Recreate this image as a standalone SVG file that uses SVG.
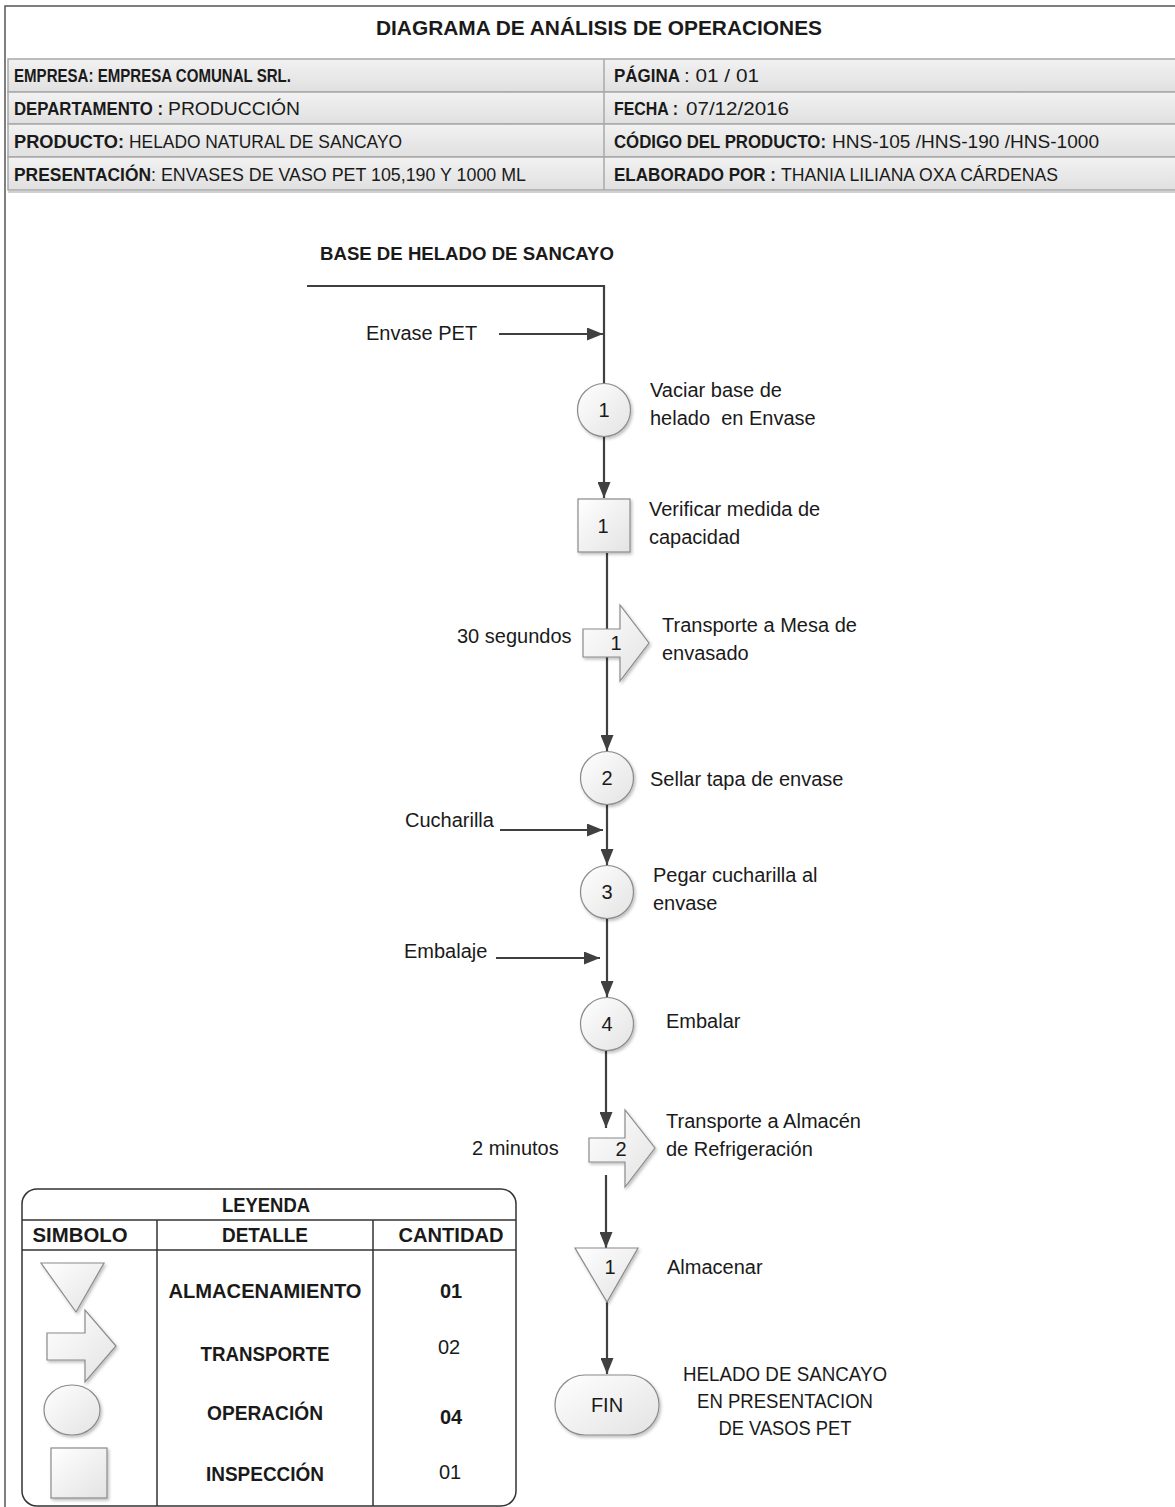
<svg xmlns="http://www.w3.org/2000/svg" width="1175" height="1507" viewBox="0 0 1175 1507">
  <defs>
    <linearGradient id="rowFill" x1="0" y1="0" x2="0" y2="1">
      <stop offset="0" stop-color="#f2f2f2"/>
      <stop offset="1" stop-color="#e0e0e0"/>
    </linearGradient>
    <linearGradient id="shapeFill" x1="0" y1="0" x2="1" y2="1">
      <stop offset="0" stop-color="#ffffff"/>
      <stop offset="1" stop-color="#e3e3e3"/>
    </linearGradient>
    <filter id="soft" x="-20%" y="-20%" width="150%" height="150%">
      <feDropShadow dx="1.5" dy="2" stdDeviation="1.5" flood-color="#000" flood-opacity="0.25"/>
    </filter>
    <marker id="head" viewBox="0 0 16 13" refX="16" refY="6.5" markerWidth="16" markerHeight="13" markerUnits="userSpaceOnUse" orient="auto">
      <path d="M0,0 L16,6.5 L0,13 z" fill="#404040"/>
    </marker>
  </defs>
  <style>
    text { font-family: "Liberation Sans", Arial, sans-serif; fill: #1a1a1a; }
    .b { font-weight: bold; }
    .hd { font-size: 18px; }
    .lbl { font-size: 20px; }
    .num { font-size: 20px; text-anchor: middle; }
    .lg { font-size: 20px; font-weight: bold; text-anchor: middle; }
    .row { fill: url(#rowFill); stroke: #a8a8a8; stroke-width: 1.5; }
    .shape { fill: url(#shapeFill); stroke: #8a8a8a; stroke-width: 1.2; filter: url(#soft); }
    .wire { fill: none; stroke: #404040; stroke-width: 2.2; }
    .rule { fill: none; stroke: #333; stroke-width: 1.5; }
  </style>

  <rect width="1175" height="1507" fill="#ffffff"/>

  <!-- page frame -->
  <path d="M5,1507 V6 H1175" fill="none" stroke="#555" stroke-width="1.5"/>

  <!-- title -->
  <text x="376" y="35" class="b" font-size="21" textLength="446" lengthAdjust="spacingAndGlyphs">DIAGRAMA DE ANÁLISIS DE OPERACIONES</text>

  <!-- header table -->
  <g id="header">
    <rect class="row" x="8" y="59" width="1170" height="33"/>
    <rect class="row" x="8" y="92" width="1170" height="32"/>
    <rect class="row" x="8" y="124" width="1170" height="33"/>
    <rect class="row" x="8" y="157" width="1170" height="33"/>
    <line x1="604" y1="59" x2="604" y2="190" stroke="#a8a8a8" stroke-width="1.5"/>
    <line x1="8" y1="192" x2="1175" y2="192" stroke="#d0d0d0" stroke-width="2"/>

    <text x="14" y="82" class="hd b" textLength="277" lengthAdjust="spacingAndGlyphs">EMPRESA: EMPRESA COMUNAL SRL.</text>
    <text x="14" y="115" class="hd b" textLength="149" lengthAdjust="spacingAndGlyphs">DEPARTAMENTO :</text>
    <text x="168" y="115" class="hd" textLength="132" lengthAdjust="spacingAndGlyphs">PRODUCCIÓN</text>
    <text x="14" y="148" class="hd b" textLength="110" lengthAdjust="spacingAndGlyphs">PRODUCTO:</text>
    <text x="129" y="148" class="hd" textLength="273" lengthAdjust="spacingAndGlyphs">HELADO NATURAL DE SANCAYO</text>
    <text x="14" y="181" class="hd b" textLength="137" lengthAdjust="spacingAndGlyphs">PRESENTACIÓN</text>
    <text x="151" y="181" class="hd" textLength="375" lengthAdjust="spacingAndGlyphs">: ENVASES DE VASO PET 105,190 Y 1000 ML</text>

    <text x="614" y="82" class="hd b" textLength="66" lengthAdjust="spacingAndGlyphs">PÁGINA</text>
    <text x="684" y="82" class="hd" textLength="75" lengthAdjust="spacingAndGlyphs">: 01 / 01</text>
    <text x="614" y="115" class="hd b" textLength="64" lengthAdjust="spacingAndGlyphs">FECHA :</text>
    <text x="686" y="115" class="hd" textLength="103" lengthAdjust="spacingAndGlyphs">07/12/2016</text>
    <text x="614" y="148" class="hd b" textLength="212" lengthAdjust="spacingAndGlyphs">CÓDIGO DEL PRODUCTO:</text>
    <text x="832" y="148" class="hd" textLength="267" lengthAdjust="spacingAndGlyphs">HNS-105 /HNS-190 /HNS-1000</text>
    <text x="614" y="181" class="hd b" textLength="162" lengthAdjust="spacingAndGlyphs">ELABORADO POR :</text>
    <text x="781" y="181" class="hd" textLength="277" lengthAdjust="spacingAndGlyphs">THANIA LILIANA OXA CÁRDENAS</text>
  </g>

  <!-- start label -->
  <text x="320" y="260" class="b" font-size="19" textLength="294" lengthAdjust="spacingAndGlyphs">BASE DE HELADO DE SANCAYO</text>

  <!-- connectors -->
  <g id="connectors">
    <polyline class="wire" points="307,286 604,286 604,384"/>
    <line class="wire" x1="499" y1="334" x2="603" y2="334" marker-end="url(#head)"/>
    <line class="wire" x1="604" y1="437" x2="604" y2="498" marker-end="url(#head)"/>
    <line class="wire" x1="607" y1="553" x2="607" y2="751" marker-end="url(#head)"/>
    <line class="wire" x1="500" y1="830" x2="603" y2="830" marker-end="url(#head)"/>
    <line class="wire" x1="607" y1="805" x2="607" y2="865" marker-end="url(#head)"/>
    <line class="wire" x1="496" y1="958" x2="600" y2="958" marker-end="url(#head)"/>
    <line class="wire" x1="607" y1="919" x2="607" y2="997" marker-end="url(#head)"/>
    <line class="wire" x1="606" y1="1051" x2="606" y2="1128" marker-end="url(#head)"/>
    <line class="wire" x1="606" y1="1175" x2="606" y2="1248" marker-end="url(#head)"/>
    <line class="wire" x1="607" y1="1302" x2="607" y2="1374" marker-end="url(#head)"/>
  </g>

  <!-- side labels -->
  <text x="366" y="340" class="lbl" font-size="18">Envase PET</text>
  <text x="405" y="827" class="lbl" font-size="19">Cucharilla</text>
  <text x="404" y="958" class="lbl" font-size="19">Embalaje</text>
  <text x="457" y="643" class="lbl">30 segundos</text>
  <text x="472" y="1155" class="lbl">2 minutos</text>

  <!-- operation 1 -->
  <g id="op1">
    <circle class="shape" cx="604" cy="410" r="26.5"/>
    <text x="604" y="417" class="num">1</text>
    <text x="650" y="397" class="lbl">Vaciar base de</text>
    <text x="650" y="425" class="lbl" xml:space="preserve">helado  en Envase</text>
  </g>

  <!-- inspection 1 -->
  <g id="insp1">
    <rect class="shape" x="578" y="499" width="52" height="53"/>
    <text x="603" y="533" class="num">1</text>
    <text x="649" y="516" class="lbl">Verificar medida de</text>
    <text x="649" y="544" class="lbl">capacidad</text>
  </g>

  <!-- transport 1 -->
  <g id="tr1">
    <path class="shape" d="M583,629 H620 V605 L649,643 L620,681 V657 H583 Z"/>
    <text x="616" y="650" class="num">1</text>
    <text x="662" y="632" class="lbl">Transporte a Mesa de</text>
    <text x="662" y="660" class="lbl">envasado</text>
  </g>

  <!-- operation 2 -->
  <g id="op2">
    <circle class="shape" cx="607" cy="778" r="26.5"/>
    <text x="607" y="785" class="num">2</text>
    <text x="650" y="786" class="lbl">Sellar tapa de envase</text>
  </g>

  <!-- operation 3 -->
  <g id="op3">
    <circle class="shape" cx="607" cy="892" r="26.5"/>
    <text x="607" y="899" class="num">3</text>
    <text x="653" y="882" class="lbl">Pegar cucharilla al</text>
    <text x="653" y="910" class="lbl">envase</text>
  </g>

  <!-- operation 4 -->
  <g id="op4">
    <circle class="shape" cx="607" cy="1024" r="26.5"/>
    <text x="607" y="1031" class="num">4</text>
    <text x="666" y="1028" class="lbl">Embalar</text>
  </g>

  <!-- transport 2 -->
  <g id="tr2">
    <path class="shape" d="M589,1138 H625 V1110 L655,1148 L625,1187 V1162 H589 Z"/>
    <text x="621" y="1156" class="num">2</text>
    <text x="666" y="1128" class="lbl">Transporte a Almacén</text>
    <text x="666" y="1156" class="lbl">de Refrigeración</text>
  </g>

  <!-- storage 1 -->
  <g id="st1">
    <path class="shape" d="M575,1248 H638 L607,1302 Z"/>
    <text x="610" y="1274" class="num">1</text>
    <text x="667" y="1274" class="lbl">Almacenar</text>
  </g>

  <!-- end -->
  <g id="fin">
    <rect class="shape" x="555" y="1375" width="104" height="60" rx="30" ry="30"/>
    <text x="607" y="1412" class="num">FIN</text>
    <text x="785" y="1381" class="num" font-size="19" textLength="204" lengthAdjust="spacingAndGlyphs">HELADO DE SANCAYO</text>
    <text x="785" y="1408" class="num" font-size="19" textLength="176" lengthAdjust="spacingAndGlyphs">EN PRESENTACION</text>
    <text x="785" y="1435" class="num" font-size="19" textLength="133" lengthAdjust="spacingAndGlyphs">DE VASOS PET</text>
  </g>

  <!-- legend -->
  <g id="legend">
    <rect x="22" y="1189" width="494" height="317" rx="15" ry="15" fill="#fff" class="rule"/>
    <line class="rule" x1="22" y1="1220" x2="516" y2="1220"/>
    <line class="rule" x1="22" y1="1250" x2="516" y2="1250"/>
    <line class="rule" x1="157" y1="1220" x2="157" y2="1506"/>
    <line class="rule" x1="373" y1="1220" x2="373" y2="1506"/>

    <text x="266" y="1212" class="lg" textLength="88" lengthAdjust="spacingAndGlyphs">LEYENDA</text>
    <text x="80" y="1242" class="lg" textLength="95" lengthAdjust="spacingAndGlyphs">SIMBOLO</text>
    <text x="265" y="1242" class="lg" textLength="86" lengthAdjust="spacingAndGlyphs">DETALLE</text>
    <text x="451" y="1242" class="lg" textLength="105" lengthAdjust="spacingAndGlyphs">CANTIDAD</text>

    <path class="shape" d="M41,1263 H104 L76,1312 Z"/>
    <path class="shape" d="M47,1333 H85 V1310 L116,1346 L85,1382 V1360 H47 Z"/>
    <ellipse class="shape" cx="72" cy="1410" rx="28" ry="25"/>
    <rect class="shape" x="51" y="1448" width="56" height="50"/>

    <text x="265" y="1298" class="lg" textLength="193" lengthAdjust="spacingAndGlyphs">ALMACENAMIENTO</text>
    <text x="265" y="1361" class="lg" textLength="129" lengthAdjust="spacingAndGlyphs">TRANSPORTE</text>
    <text x="265" y="1420" class="lg" textLength="116" lengthAdjust="spacingAndGlyphs">OPERACIÓN</text>
    <text x="265" y="1481" class="lg" textLength="118" lengthAdjust="spacingAndGlyphs">INSPECCIÓN</text>

    <text x="451" y="1298" class="num b" font-size="19">01</text>
    <text x="449" y="1354" class="num" font-size="18">02</text>
    <text x="451" y="1424" class="num b" font-size="19">04</text>
    <text x="450" y="1479" class="num" font-size="18">01</text>
  </g>
</svg>
